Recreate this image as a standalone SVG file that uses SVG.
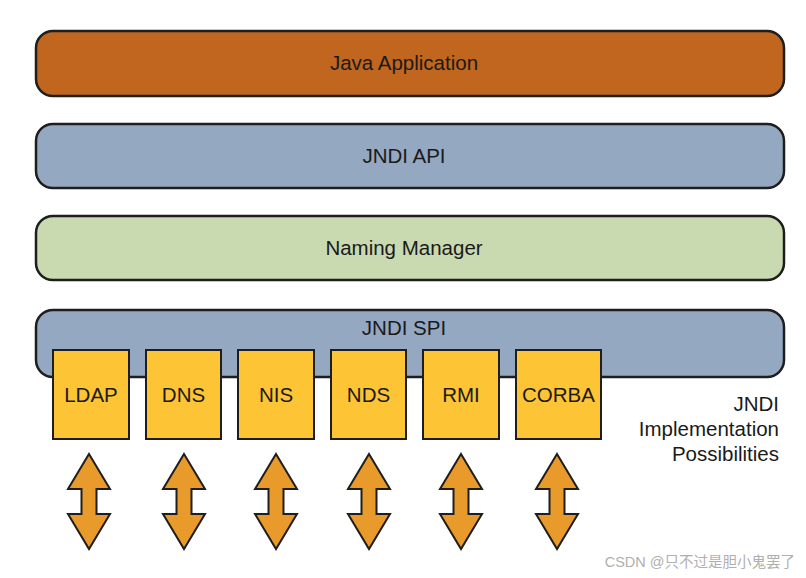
<svg xmlns="http://www.w3.org/2000/svg" width="806" height="578" viewBox="0 0 806 578">
<style>
.bar{stroke:#1e1e1e;stroke-width:2.5}
.box{fill:#fdc436;stroke:#1e1e1e;stroke-width:2}
.arr{fill:#e89a2a;stroke:#1e1e1e;stroke-width:2;stroke-linejoin:miter}
text{font-family:"Liberation Sans",Arial,sans-serif;fill:#1a1a1a}
.lbl{font-size:20.5px;text-anchor:middle}
.side{font-size:20.5px;text-anchor:end}
</style>
<defs>
<path id="dbl" class="arr" d="M0,-48 L21,-13 L7.5,-13 L7.5,12 L21,12 L0,47 L-21,12 L-7.5,12 L-7.5,-13 L-21,-13 Z"/>
</defs>
<rect width="806" height="578" fill="#ffffff"/>
<g id="java-app">
<rect class="bar" x="36" y="31" width="748" height="65" rx="17" fill="#c0661e"/>
<text class="lbl" x="404" y="70">Java Application</text>
</g>
<g id="jndi-api">
<rect class="bar" x="36" y="124" width="748" height="64" rx="17" fill="#94a8c2"/>
<text class="lbl" x="404" y="163">JNDI API</text>
</g>
<g id="naming-manager">
<rect class="bar" x="36" y="216" width="748" height="64" rx="17" fill="#c9d9b0"/>
<text class="lbl" x="404" y="255">Naming Manager</text>
</g>
<g id="jndi-spi">
<rect class="bar" x="36" y="310" width="748" height="67" rx="17" fill="#94a8c2"/>
<text class="lbl" x="404" y="335">JNDI SPI</text>
</g>
<g id="ldap"><rect class="box" x="53" y="350" width="76" height="89"/><text class="lbl" x="91" y="402">LDAP</text></g>
<g id="dns"><rect class="box" x="146" y="350" width="75" height="89"/><text class="lbl" x="183.5" y="402">DNS</text></g>
<g id="nis"><rect class="box" x="238" y="350" width="76" height="89"/><text class="lbl" x="276" y="402">NIS</text></g>
<g id="nds"><rect class="box" x="331" y="350" width="75" height="89"/><text class="lbl" x="368.5" y="402">NDS</text></g>
<g id="rmi"><rect class="box" x="423" y="350" width="76" height="89"/><text class="lbl" x="461" y="402">RMI</text></g>
<g id="corba"><rect class="box" x="516" y="350" width="85" height="89"/><text class="lbl" x="558.5" y="402">CORBA</text></g>
<g id="connectors">
<use href="#dbl" x="89" y="502"/>
<use href="#dbl" x="184" y="502"/>
<use href="#dbl" x="276" y="502"/>
<use href="#dbl" x="369" y="502"/>
<use href="#dbl" x="461" y="502"/>
<use href="#dbl" x="557" y="502"/>
</g>
<g id="label">
<text class="side" x="779" y="411">JNDI</text>
<text class="side" x="779" y="436">Implementation</text>
<text class="side" x="779" y="461">Possibilities</text>
</g>
<text x="795" y="567" font-size="14.5" text-anchor="end" style="fill:#b0b0b0;font-family:'Liberation Sans','Noto Sans CJK SC',sans-serif">CSDN @只不过是胆小鬼罢了</text>
</svg>
